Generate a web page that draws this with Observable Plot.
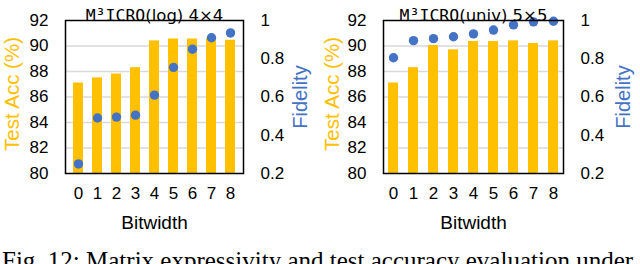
<!DOCTYPE html>
<html><head><meta charset="utf-8">
<script src="https://cdn.jsdelivr.net/npm/d3@7"></script>
<script src="https://cdn.jsdelivr.net/npm/@observablehq/plot@0.6"></script>
<style>
body{margin:0;background:#fff;}
#row{display:flex;width:640px;}
#caption{font-family:"Liberation Serif","Times New Roman",serif;font-size:25px;line-height:28px;white-space:nowrap;margin-top:7px;margin-left:2px;color:#000;}
</style></head><body>
<div id="row"></div>
<div id="caption">Fig. 12: Matrix expressivity and test accuracy evaluation under</div>
<script>
// ---- data ----
const bitwidths = ["0","1","2","3","4","5","6","7","8"];
const logAcc  = [87.1, 87.5, 87.8, 88.3, 90.4, 90.55, 90.55, 90.57, 90.45];
const logFid  = [0.25, 0.49, 0.495, 0.505, 0.61, 0.755, 0.85, 0.91, 0.935];
const univAcc = [87.1, 88.3, 90.05, 89.7, 90.35, 90.35, 90.4, 90.2, 90.4];
const univFid = [0.805, 0.895, 0.905, 0.915, 0.93, 0.95, 0.977, 0.993, 0.996];
const accDomain = [80, 92];
const fidDomain = [0.2, 1];
const accTicks = [80, 82, 84, 86, 88, 90, 92];
const gridTicks = [82, 84, 86, 88, 90];
const fidTicks = [0.2, 0.4, 0.6, 0.8, 1];
const titles = [["M³ICRO", "(log) 4×4"], ["M³ICRO", "(univ) 5×5"]];
const accLabel = "Test Acc (%)";
const fidLabel = "Fidelity";
const xLabel = "Bitwidth";

const gold = "#FFC000";
const blue = "#4472C4";

function panel(title, acc, fid, ml, mr, dxL, dxR) {
  const fidScale = d3.scaleLinear(fidDomain, accDomain);
  const data = bitwidths.map((b, i) => ({b, acc: acc[i], fid: fidScale(fid[i])}));
  const svg = Plot.plot({
    width: 320, height: 240,
    marginLeft: ml, marginRight: mr, marginTop: 20, marginBottom: 67,
    style: {fontFamily: "'Liberation Sans', Arial, sans-serif", fontSize: "17px", color: "#000", background: "#fff"},
    x: {domain: bitwidths, paddingInner: 0.5, paddingOuter: 0.25},
    y: {domain: accDomain},
    marks: [
      Plot.ruleY(gridTicks, {stroke: "#d9d9d9", strokeWidth: 1.3}),
      Plot.barY(data, {x: "b", y1: accDomain[0], y2: "acc", fill: gold}),
      Plot.dot(data, {x: "b", y: "fid", r: 4.7, fill: blue}),
      Plot.frame({stroke: "#000", strokeWidth: 1.5}),
      Plot.axisY(accTicks, {anchor: "left", tickSize: 0, tickPadding: 17, label: null, fontSize: 17}),
      Plot.axisY(fidTicks.map(fidScale), {anchor: "right", tickSize: 0, tickPadding: 17, label: null, fontSize: 17,
        tickFormat: d => String(+fidScale.invert(d).toFixed(2))}),
      Plot.axisX({tickSize: 0, tickPadding: 13, label: null, fontSize: 17}),
      Plot.text([accLabel], {frameAnchor: "left", textAnchor: "middle", rotate: -90, dx: dxL, dy: -3, fill: gold, fontSize: 20.5}),
      Plot.text([fidLabel], {frameAnchor: "right", textAnchor: "middle", rotate: -90, dx: dxR, fill: blue, fontSize: 20}),
      Plot.text([xLabel], {frameAnchor: "bottom", dy: 55, fontSize: 19}),
      Plot.text([title[0] + title[1]], {frameAnchor: "top", lineAnchor: "bottom", dy: 0, fontSize: 16.5,
        fontFamily: "'DejaVu Sans', sans-serif", className: "ptitle"})
    ]
  });
  // mixed font for title
  d3.select(svg).selectAll(".ptitle text").each(function() {
    const t = d3.select(this);
    t.text(null);
    t.append("tspan").attr("font-family", "'DejaVu Sans Mono', monospace").text(title[0]);
    t.append("tspan").text(title[1]);
  });
  return svg;
}

const row = document.getElementById("row");
row.appendChild(panel(titles[0], logAcc, logFid, 65, 77, -53, 57));
row.appendChild(panel(titles[1], univAcc, univFid, 63, 77, -51, 60));
</script>
</body></html>
